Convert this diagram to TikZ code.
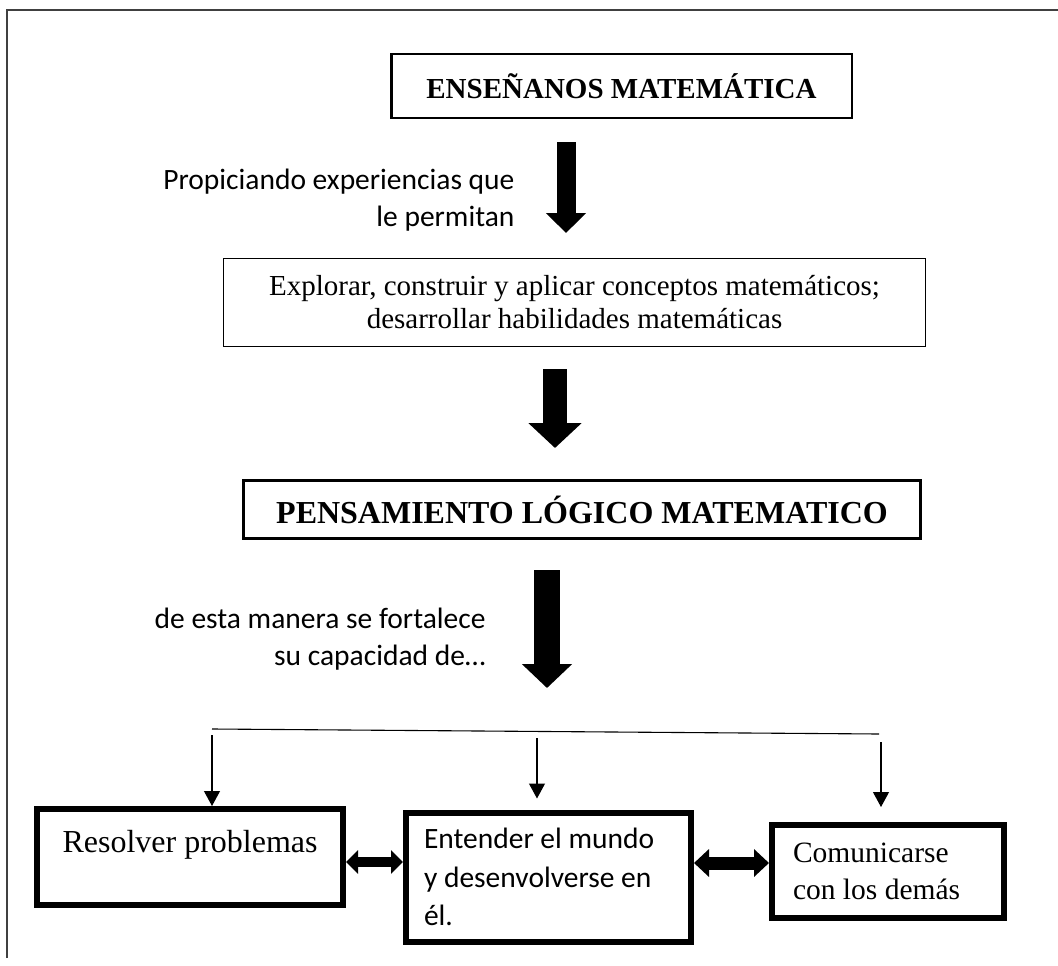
\documentclass[tikz,border=0pt]{standalone}
\usepackage{fontspec}
\setmainfont{Liberation Serif}
\newfontfamily\calibri{Carlito}
\usetikzlibrary{arrows.meta}

\begin{document}
\begin{tikzpicture}[x=1pt, y=-1pt,
    box/.style={
        draw,
        line width=2.5pt,
        inner sep=4pt,
        align=center
    },
    thinbox/.style={
        box,
        line width=1.3pt
    },
    bigbox/.style={
        box,
        line width=6pt,
        align=flush left
    },
    fat/.style n args={3}{
        line width=#1,
        -{Triangle[width=#2, length=#3]}
    },
    dbl/.style n args={3}{
        line width=#1,
        {Triangle[width=#2, length=#3]}-{Triangle[width=#2, length=#3]}
    },
    thinarrow/.style={
        line width=1.1pt,
        -{Triangle[width=16pt, length=15pt]}
    },
    side/.style={
        font=\calibri\fontsize{29.5}{37}\selectfont,
        align=right,
        anchor=east
    }
]

\useasboundingbox (0,0) rectangle (1058,966);

% --- marco ---
\draw[line width=1.5pt, black!75] (7,958) -- (7,10) -- (1058,10);

%%%%%%%%%%%%%%%%%%%%%%%%
% Cajas principales
%%%%%%%%%%%%%%%%%%%%%%%%

\node[box, minimum width=460.5pt, minimum height=63.5pt,
      font=\bfseries\fontsize{29}{33}\selectfont]
    (ensenanos) at (621.5,86) {ENSEÑANOS MATEMÁTICA};

\node[thinbox, minimum width=701.7pt, minimum height=87.7pt,
      font=\fontsize{29}{33}\selectfont]
    (explorar) at (574.5,302.5)
    {Explorar, construir y aplicar conceptos matemáticos;\\
     desarrollar habilidades matemáticas};

\node[box, line width=3pt, minimum width=677pt, minimum height=58pt,
      font=\bfseries\fontsize{32}{36}\selectfont]
    (pensamiento) at (582,509.5) {PENSAMIENTO LÓGICO MATEMATICO};

% --- Textos laterales ---
\node[side] (propiciando) at (518,200)
    {Propiciando experiencias que\\le permitan};
\node[side] (manera) at (489,639)
    {de esta manera se fortalece\\su capacidad de…};

%%%%%%%%%%%%%%%%%%%%%%%%
% Flechas gruesas
%%%%%%%%%%%%%%%%%%%%%%%%

\coordinate (a1top) at (566,142);
\coordinate (a1tip) at (566,233);
\coordinate (a2top) at (555,369);
\coordinate (a2tip) at (555,448);
\coordinate (a3top) at (547,570);
\coordinate (a3tip) at (547,688);

\draw[fat={19pt}{39pt}{20pt}] (a1top) -- (a1tip);
\draw[fat={24pt}{52pt}{25pt}] (a2top) -- (a2tip);
\draw[fat={26pt}{49pt}{24pt}] (a3top) -- (a3tip);

%%%%%%%%%%%%%%%%%%%%%%%%
% Capacidades
%%%%%%%%%%%%%%%%%%%%%%%%

\node[bigbox, minimum width=306pt, minimum height=96pt]
    (resolver) at (190,857) {};
\node[anchor=base west, font=\fontsize{32}{36}\selectfont]
    (resolvertxt) at (59,852) {Resolver problemas};

\node[bigbox, minimum width=285pt, minimum height=129pt,
      text width=249pt, font=\calibri\fontsize{29.5}{38.5}\selectfont]
    (entender) at (548.5,877)
    {Entender el mundo\\y desenvolverse en\\él.};

\node[bigbox, minimum width=232pt, minimum height=93pt,
      text width=190pt, font=\fontsize{29.5}{37}\selectfont]
    (comunicarse) at (888,871.5)
    {Comunicarse\\con los demás};

% --- Linea y flechas delgadas ---
\coordinate (bl) at (212,729);
\coordinate (br) at (879,734);
\draw[line width=1.1pt] (bl) -- (br);

\coordinate (t1) at (212,735);
\coordinate (t2) at (537,738);
\coordinate (t3) at (881,742);

\draw[thinarrow] (t1) -- (t1 |- resolver.north);
\draw[thinarrow, shorten >=11pt] (t2) -- (t2 |- entender.north);
\draw[thinarrow, shorten >=15pt] (t3) -- (t3 |- comunicarse.north);

% --- Flechas dobles ---
\coordinate (d1) at (374,862);
\coordinate (d2) at (733,863);
\draw[dbl={10pt}{23pt}{12pt}] (d1 -| resolver.east) -- (d1 -| entender.west);
\draw[dbl={13pt}{27pt}{15pt}] (d2 -| entender.east) -- (d2 -| comunicarse.west);

\end{tikzpicture}
\end{document}
